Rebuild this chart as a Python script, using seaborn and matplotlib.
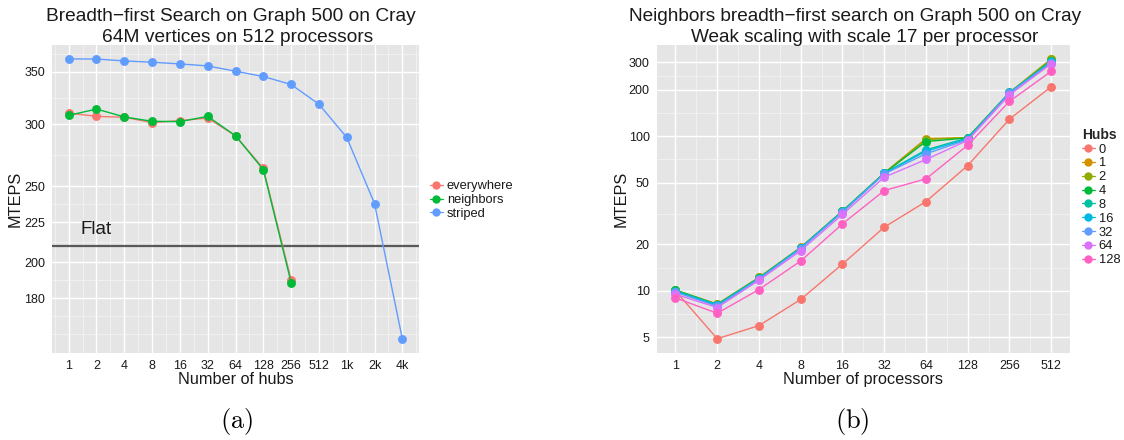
import numpy as np
import pandas as pd
import matplotlib
matplotlib.use("Agg")
import matplotlib.pyplot as plt
import matplotlib.ticker as mticker
from matplotlib.lines import Line2D
import seaborn as sns

# ---------------- data: panel (a) ----------------
hubs = [1, 2, 4, 8, 16, 32, 64, 128, 256, 512, 1024, 2048, 4096]
hub_labels = ["1", "2", "4", "8", "16", "32", "64", "128", "256", "512", "1k", "2k", "4k"]
methods = ["everywhere", "neighbors", "striped"]
everywhere = [310.1, 307.1, 306.3, 301.5, 303.3, 305.6, 290.1, 263.6, 189.9]
neighbors = [308.0, 313.8, 306.6, 302.7, 302.4, 307.1, 290.1, 262.6, 188.4]
striped = [363.6, 363.5, 361.5, 360.1, 358.3, 356.2, 350.7, 345.3, 337.3, 318.3, 288.7, 237.7, 159.7]
flat_mteps = 210
left_yticks = [180, 200, 225, 250, 300, 350]

# ---------------- data: panel (b) ----------------
procs = [1, 2, 4, 8, 16, 32, 64, 128, 256, 512]
hub_counts = ["0", "1", "2", "4", "8", "16", "32", "64", "128"]
mteps_h0 = [10.0, 4.9, 5.96, 8.8, 14.9, 25.8, 37.8, 64.6, 129, 209]
mteps_h1 = [10.1, 8.2, 12.2, 19.1, 32.8, 57.8, 96.5, 98, 192, 315]
mteps_h2 = [10.1, 8.2, 12.2, 19.0, 32.7, 57.7, 95, 98, 191, 316]
mteps_h4 = [10.1, 8.15, 12.1, 19.0, 32.7, 57.6, 92.4, 97.5, 190, 308]
mteps_h8 = [10.0, 8.15, 12.1, 19.0, 32.7, 57.6, 81.6, 97.6, 191, 306]
mteps_h16 = [9.9, 8.05, 12.0, 18.9, 32.5, 57.4, 80, 96, 192, 300]
mteps_h32 = [9.8, 7.95, 11.9, 18.7, 32.2, 57.0, 77, 95, 190, 298]
mteps_h64 = [9.5, 7.8, 11.7, 18.2, 31.2, 54.3, 70.7, 94, 185, 294]
mteps_h128 = [9.0, 7.16, 10.2, 15.6, 27.1, 44.5, 53, 87.5, 168, 263]
right_yticks = [5, 10, 20, 50, 100, 200, 300]

# ---------------- styling ----------------
sns.set_theme(style="darkgrid")
plt.rcParams["font.family"] = ["Liberation Sans", "DejaVu Sans"]
plt.rcParams["mathtext.fontset"] = "cm"

pal3 = ["#F8766D", "#00BA38", "#619CFF"]
pal9 = ["#F8766D", "#D39200", "#93AA00", "#00BA38", "#00C19F",
        "#00B9E3", "#619CFF", "#DB72FB", "#FF61C3"]
PANEL = "#E5E5E5"
TXT = "#1A1A1A"

rowsL = []
for name, vals in zip(methods, [everywhere, neighbors, striped]):
    for h, v in zip(hubs, vals):
        rowsL.append({"hubs": h, "MTEPS": v, "method": name})
dfL = pd.DataFrame(rowsL)

rowsR = []
for name, vals in zip(hub_counts, [mteps_h0, mteps_h1, mteps_h2, mteps_h4, mteps_h8,
                                   mteps_h16, mteps_h32, mteps_h64, mteps_h128]):
    for p, v in zip(procs, vals):
        rowsR.append({"procs": p, "MTEPS": v, "Hubs": name})
dfR = pd.DataFrame(rowsR)

W, H = 1124, 440
fig = plt.figure(figsize=(W / 100, H / 100), dpi=100)
fig.patch.set_facecolor("white")


def px_axes(x0, y0, x1, y1):
    return fig.add_axes([x0 / W, 1 - y1 / H, (x1 - x0) / W, (y1 - y0) / H])


axL = px_axes(52, 45, 419, 352.7)
axR = px_axes(656.7, 45, 1070, 352.7)


def style_axes(ax):
    ax.set_facecolor(PANEL)
    for s in ax.spines.values():
        s.set_visible(False)
    ax.xaxis.set_minor_formatter(mticker.NullFormatter())
    ax.yaxis.set_minor_formatter(mticker.NullFormatter())
    ax.grid(which="major", color="white", linewidth=1.0)
    ax.grid(which="minor", color="#F5F5F5", linewidth=0.5)
    ax.set_axisbelow(True)
    ax.tick_params(which="major", length=3, width=0.8, color="#333333",
                   labelsize=9, labelcolor=TXT, pad=2)
    ax.tick_params(which="minor", length=0)


# ---------------- panel (a) ----------------
sns.lineplot(data=dfL, x="hubs", y="MTEPS", hue="method", hue_order=methods,
             palette=pal3, marker="o", markersize=6.4, markeredgewidth=0,
             linewidth=1.0, estimator=None, sort=False, legend=False, ax=axL)
axL.set_xscale("log", base=2)
axL.set_yscale("log")
axL.set_xlim(2 ** -0.6, 2 ** 12.6)
axL.set_ylim(153.3, 378.8)
axL.xaxis.set_major_locator(mticker.FixedLocator(hubs))
axL.xaxis.set_major_formatter(mticker.FixedFormatter(hub_labels))
axL.xaxis.set_minor_locator(mticker.FixedLocator([2 ** (k + 0.5) for k in range(-1, 13)]))
axL.yaxis.set_major_locator(mticker.FixedLocator(left_yticks))
axL.yaxis.set_major_formatter(mticker.FixedFormatter([str(v) for v in left_yticks]))
ly = np.log(left_yticks)
bd = ly[1] - ly[0]
ext = np.concatenate([[ly[0] - bd], ly, [ly[-1] + bd]])
minorL = np.exp(np.concatenate([ext, (ext[:-1] + ext[1:]) / 2]))
minorL = [m for m in minorL if not any(abs(m - t) < 1e-6 for t in left_yticks)]
axL.yaxis.set_minor_locator(mticker.FixedLocator(minorL))
style_axes(axL)
axL.axhline(flat_mteps, color="#595959", linewidth=1.6, zorder=1.5)
axL.text(2, 220, "Flat", ha="center", va="center", fontsize=13.5, color=TXT)
axL.set_xlabel("Number of hubs", fontsize=11.7, color=TXT, labelpad=0)
axL.set_ylabel("MTEPS", fontsize=11.7, color=TXT, labelpad=1)

# ---------------- panel (b) ----------------
sns.lineplot(data=dfR, x="procs", y="MTEPS", hue="Hubs", hue_order=hub_counts,
             palette=pal9, marker="o", markersize=6.4, markeredgewidth=0,
             linewidth=1.0, estimator=None, sort=False, legend=False, ax=axR)
axR.set_xscale("log", base=2)
axR.set_yscale("log")
axR.set_xlim(2 ** -0.45, 2 ** 9.45)
axR.set_ylim(3.98, 389)
axR.xaxis.set_major_locator(mticker.FixedLocator(procs))
axR.xaxis.set_major_formatter(mticker.FixedFormatter([str(p) for p in procs]))
axR.xaxis.set_minor_locator(mticker.FixedLocator([2 ** (k + 0.5) for k in range(-1, 10)]))
axR.yaxis.set_major_locator(mticker.FixedLocator(right_yticks))
axR.yaxis.set_major_formatter(mticker.FixedFormatter([str(v) for v in right_yticks]))
ry = np.log(right_yticks)
axR.yaxis.set_minor_locator(mticker.FixedLocator(np.exp((ry[:-1] + ry[1:]) / 2)))
style_axes(axR)
axR.set_xlabel("Number of processors", fontsize=11.7, color=TXT, labelpad=0)
axR.set_ylabel("MTEPS", fontsize=11.7, color=TXT, labelpad=0)

# ---------------- legends ----------------
def handles(colors):
    return [Line2D([0], [0], color=c, marker="o", markersize=6, markeredgewidth=0,
                   linewidth=0.9) for c in colors]

legL = fig.legend(handles(pal3), methods, loc="center left",
                  bbox_to_anchor=(430 / W, 1 - 200 / H), frameon=False,
                  fontsize=9.3, handlelength=1.0, handletextpad=0.3,
                  labelspacing=0.12, borderpad=0, borderaxespad=0)
for t in legL.get_texts():
    t.set_color(TXT)

legR = fig.legend(handles(pal9), hub_counts, loc="center left",
                  bbox_to_anchor=(1082 / W, 1 - 197 / H), frameon=False,
                  fontsize=9.3, handlelength=1.0, handletextpad=0.3,
                  labelspacing=0.14, borderpad=0, borderaxespad=0,
                  title="Hubs", title_fontproperties={"weight": "bold", "size": 10})
legR._legend_box.align = "left"
for t in legR.get_texts():
    t.set_color(TXT)

# ---------------- titles & captions ----------------
fig.text(231 / W, 1 - 21 / H, "Breadth\u2212first Search on Graph 500 on Cray",
         ha="center", va="baseline", fontsize=13.8, color=TXT)
fig.text(238 / W, 1 - 42 / H, "64M vertices on 512 processors",
         ha="center", va="baseline", fontsize=13.8, color=TXT)
fig.text(855 / W, 1 - 21 / H, "Neighbors breadth\u2212first search on Graph 500 on Cray",
         ha="center", va="baseline", fontsize=13.7, color=TXT)
fig.text(865 / W, 1 - 42 / H, "Weak scaling with scale 17 per processor",
         ha="center", va="baseline", fontsize=13.7, color=TXT)

fig.text(237 / W, 1 - 421 / H, r"$\mathrm{(a)}$", ha="center", va="center",
         fontsize=19, color="black")
fig.text(852 / W, 1 - 421 / H, r"$\mathrm{(b)}$", ha="center", va="center",
         fontsize=19, color="black")

fig.savefig("out.png", dpi=100, facecolor="white")
